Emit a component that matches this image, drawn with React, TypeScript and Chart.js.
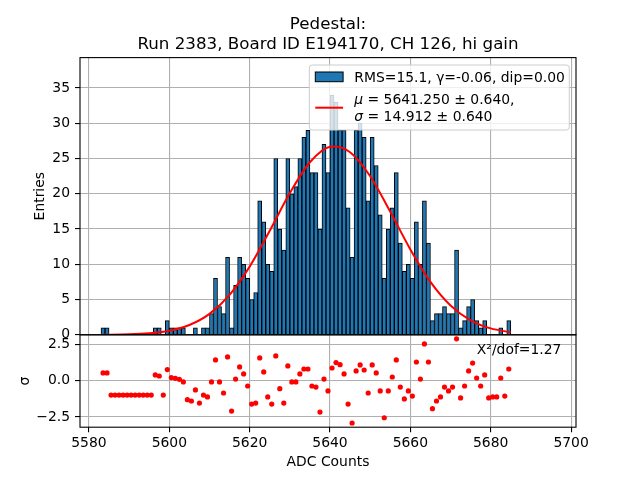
import React, { useEffect, useRef } from 'react';
import { Chart, registerables } from 'chart.js';

Chart.register(...registerables);

// ---- Data ----
// Histogram bin centres (bin width 1 ADC count)
const binCenters = [
  5583.5, 5584.5, 5585.5, 5586.5, 5587.5, 5588.5, 5589.5, 5590.5, 5591.5, 5592.5,
  5593.5, 5594.5, 5595.5, 5596.5, 5597.5, 5598.5, 5599.5, 5600.5, 5601.5, 5602.5,
  5603.5, 5604.5, 5605.5, 5606.5, 5607.5, 5608.5, 5609.5, 5610.5, 5611.5, 5612.5,
  5613.5, 5614.5, 5615.5, 5616.5, 5617.5, 5618.5, 5619.5, 5620.5, 5621.5, 5622.5,
  5623.5, 5624.5, 5625.5, 5626.5, 5627.5, 5628.5, 5629.5, 5630.5, 5631.5, 5632.5,
  5633.5, 5634.5, 5635.5, 5636.5, 5637.5, 5638.5, 5639.5, 5640.5, 5641.5, 5642.5,
  5643.5, 5644.5, 5645.5, 5646.5, 5647.5, 5648.5, 5649.5, 5650.5, 5651.5, 5652.5,
  5653.5, 5654.5, 5655.5, 5656.5, 5657.5, 5658.5, 5659.5, 5660.5, 5661.5, 5662.5,
  5663.5, 5664.5, 5665.5, 5666.5, 5667.5, 5668.5, 5669.5, 5670.5, 5671.5, 5672.5,
  5673.5, 5674.5, 5675.5, 5676.5, 5677.5, 5678.5, 5679.5, 5680.5, 5681.5, 5682.5,
  5683.5, 5684.5,
];

// Entries per bin
const entries = [
  1, 1, 0, 0, 0, 0, 0, 0, 0, 0,
  0, 0, 0, 1, 1, 0, 2, 1, 1, 1,
  1, 0, 0, 1, 0, 1, 1, 3, 8, 4,
  3, 11, 1, 7, 11, 10, 8, 5, 6, 19,
  16, 10, 9, 25, 15, 12, 25, 20, 21, 25,
  28, 29, 23, 23, 15, 27, 23, 34, 33, 29,
  29, 18, 11, 29, 30, 28, 19, 28, 24, 17,
  8, 15, 18, 23, 13, 9, 10, 8, 16, 10,
  19, 13, 2, 3, 3, 4, 3, 3, 12, 1,
  2, 4, 5, 2, 1, 2, 0, 0, 0, 1,
  0, 2,
];

// Residuals (sigma) per bin
const residuals = [
  0.53, 0.53, -0.99, -0.99, -0.99, -0.99, -0.99, -0.99, -0.99, -0.99,
  -0.99, -0.99, -0.99, 0.39, 0.32, -0.99, 0.76, 0.21, 0.16, 0.09,
  -0.09, -1.31, -1.40, -0.64, -1.54, -0.99, -1.12, -0.09, 1.42, -0.09,
  -0.85, 1.63, -2.09, 0.11, 0.94, 0.46, -0.37, -1.61, -1.54, 1.56,
  0.60, -1.12, -1.61, 1.70, -0.55, -1.54, 1.01, -0.09, -0.09, 0.46,
  0.80, 0.80, -0.37, -0.44, -2.16, 0.11, -0.71, 0.87, 1.24, 1.10,
  0.46, -1.61, -2.91, 0.67, 1.08, 0.73, -0.85, 1.08, 0.53, -0.71,
  -2.55, -0.71, 0.25, 1.42, -0.44, -1.26, -0.71, -1.06, 1.28, 0.11,
  2.52, 1.28, -1.93, -1.40, -1.12, -0.44, -0.71, -0.44, 2.87, -1.19,
  -0.37, 0.67, 1.21, 0.18, -0.37, 0.39, -1.19, -1.12, -1.12, 0.18,
  -1.06, 0.80,
];

// Gaussian fit curve
const fitX = [5583, 5590, 5595, 5600, 5605, 5610, 5615, 5620, 5625, 5630, 5635, 5640, 5641.25, 5645, 5650, 5655, 5660, 5665, 5670, 5675, 5680, 5685];
const fitY = [0.01, 0.07, 0.22, 0.58, 1.39, 2.97, 5.67, 9.67, 14.74, 20.09, 24.46, 26.66, 26.7, 25.87, 22.48, 17.45, 12.11, 7.5, 4.16, 2.06, 0.91, 0.36];

const xTicks = [5580, 5600, 5620, 5640, 5660, 5680, 5700];
const yTicks = [0, 5, 10, 15, 20, 25, 30, 35];
const residualTicks = [-2.5, 0, 2.5];

const titleLines = ['Pedestal:', 'Run 2383, Board ID E194170, CH 126, hi gain'];
const legendHistLabel = 'RMS=15.1, γ=-0.06, dip=0.00';
const legendFitLine1 = ' = 5641.250 ± 0.640,';
const legendFitLine2 = ' = 14.912 ± 0.640';
const chiText = 'X²/dof=1.27';

const FONT = '"DejaVu Sans", "Liberation Sans", sans-serif';

export default function App() {
  const canvasRef = useRef<HTMLCanvasElement | null>(null);

  useEffect(() => {
    document.body.style.margin = '0';
    const canvas = canvasRef.current;
    if (!canvas) return;

    const overlay = {
      id: 'mplOverlay',
      afterDatasetsDraw(chart: any) {
        const ctx = chart.ctx as CanvasRenderingContext2D;
        const ca = chart.chartArea;
        const yS = chart.scales.y;
        const rS = chart.scales.yres;
        ctx.save();
        // panel frames
        ctx.strokeStyle = '#000';
        ctx.lineWidth = 1.1;
        ctx.strokeRect(ca.left, yS.top, ca.right - ca.left, yS.bottom - yS.top);
        ctx.strokeRect(ca.left, rS.top, ca.right - ca.left, rS.bottom - rS.top);

        // legend
        const lw = 260, lh = 65;
        const lx = ca.right - 6.7 - lw;
        const ly = ca.top + 7.4;
        const r = 3;
        ctx.beginPath();
        ctx.moveTo(lx + r, ly);
        ctx.lineTo(lx + lw - r, ly);
        ctx.quadraticCurveTo(lx + lw, ly, lx + lw, ly + r);
        ctx.lineTo(lx + lw, ly + lh - r);
        ctx.quadraticCurveTo(lx + lw, ly + lh, lx + lw - r, ly + lh);
        ctx.lineTo(lx + r, ly + lh);
        ctx.quadraticCurveTo(lx, ly + lh, lx, ly + lh - r);
        ctx.lineTo(lx, ly + r);
        ctx.quadraticCurveTo(lx, ly, lx + r, ly);
        ctx.closePath();
        ctx.fillStyle = 'rgba(255,255,255,0.8)';
        ctx.fill();
        ctx.strokeStyle = '#cccccc';
        ctx.lineWidth = 1;
        ctx.stroke();

        const hx = lx + 6;
        // histogram patch
        ctx.fillStyle = '#1f77b4';
        ctx.fillRect(hx, ly + 7, 27.8, 9.7);
        ctx.strokeStyle = '#000';
        ctx.lineWidth = 1;
        ctx.strokeRect(hx, ly + 7, 27.8, 9.7);
        // fit line
        ctx.strokeStyle = 'red';
        ctx.lineWidth = 2;
        ctx.beginPath();
        ctx.moveTo(hx, ly + 42.7);
        ctx.lineTo(hx + 27.8, ly + 42.7);
        ctx.stroke();

        const tx = lx + 45;
        ctx.fillStyle = '#000';
        ctx.textAlign = 'left';
        ctx.textBaseline = 'alphabetic';
        ctx.font = `13.9px ${FONT}`;
        ctx.fillText(legendHistLabel, tx, ly + 16.5);
        ctx.font = `italic 13.9px ${FONT}`;
        ctx.fillText('μ', tx, ly + 38.5);
        const muW = ctx.measureText('μ').width;
        ctx.fillText('σ', tx, ly + 55.8);
        const sgW = ctx.measureText('σ').width;
        ctx.font = `13.9px ${FONT}`;
        ctx.fillText(legendFitLine1, tx + muW, ly + 38.5);
        ctx.fillText(legendFitLine2, tx + sgW, ly + 55.8);

        // chi2 text in residual panel
        ctx.fillText(chiText, ca.left + 0.8 * (ca.right - ca.left), rS.top + 19.5);
        ctx.restore();
      },
      afterDraw(chart: any) {
        const ctx = chart.ctx as CanvasRenderingContext2D;
        const ca = chart.chartArea;
        const yS = chart.scales.y;
        const rS = chart.scales.yres;
        const cx = (ca.left + ca.right) / 2;
        ctx.save();
        ctx.fillStyle = '#000';
        ctx.textAlign = 'center';
        ctx.textBaseline = 'alphabetic';
        ctx.font = `16.7px ${FONT}`;
        ctx.fillText(titleLines[0], cx, ca.top - 28.3);
        ctx.fillText(titleLines[1], cx, ca.top - 8.3);

        ctx.font = `13.9px ${FONT}`;
        ctx.textBaseline = 'middle';
        ctx.fillText('ADC Counts', cx, 462);

        ctx.save();
        ctx.translate(40, (yS.top + yS.bottom) / 2);
        ctx.rotate(-Math.PI / 2);
        ctx.fillText('Entries', 0, 0);
        ctx.restore();

        ctx.save();
        ctx.translate(25, (rS.top + rS.bottom) / 2);
        ctx.rotate(-Math.PI / 2);
        ctx.fillText('σ', 0, 0);
        ctx.restore();
        ctx.restore();
      },
    };

    const tickFont = { family: FONT, size: 13.9 };
    const gridCommon = {
      color: '#b0b0b0',
      lineWidth: 1.1,
      tickColor: '#000',
      tickLength: 5,
      drawTicks: true,
      offset: false,
    };

    const chart = new Chart(canvas, {
      type: 'bar',
      data: {
        datasets: [
          {
            type: 'bar',
            label: legendHistLabel,
            data: binCenters.map((x, i) => ({ x, y: entries[i] })),
            backgroundColor: '#1f77b4',
            borderColor: '#000',
            borderWidth: 1,
            barPercentage: 1,
            categoryPercentage: 1,
            xAxisID: 'x',
            yAxisID: 'y',
            order: 2,
          } as any,
          {
            type: 'line',
            label: 'fit',
            data: fitX.map((x, i) => ({ x, y: fitY[i] })),
            borderColor: 'red',
            borderWidth: 2,
            pointRadius: 0,
            fill: false,
            cubicInterpolationMode: 'monotone',
            xAxisID: 'x',
            yAxisID: 'y',
            order: 1,
          } as any,
          {
            type: 'scatter',
            label: 'residuals',
            data: binCenters.map((x, i) => ({ x, y: residuals[i] })),
            backgroundColor: 'red',
            borderWidth: 0,
            pointRadius: 2.6,
            xAxisID: 'x',
            yAxisID: 'yres',
            order: 0,
          } as any,
        ],
      },
      options: {
        animation: false,
        responsive: false,
        devicePixelRatio: 1,
        layout: { padding: { top: 57.6, right: 64, bottom: 0, left: 0 } },
        plugins: {
          legend: { display: false },
          title: { display: false },
          tooltip: { enabled: false },
        },
        scales: {
          x: {
            type: 'linear',
            position: 'bottom',
            offset: false,
            min: 5577.77,
            max: 5701.23,
            afterFit: (s: any) => { s.height = 52.8; },
            afterBuildTicks: (s: any) => { s.ticks = xTicks.map((v) => ({ value: v })); },
            ticks: {
              color: '#000',
              font: tickFont,
              padding: 3,
              maxRotation: 0,
              autoSkip: false,
              callback: (v: any) => String(v),
            },
            grid: gridCommon,
            border: { display: false },
          },
          yres: {
            type: 'linear',
            position: 'left',
            stack: 'panels',
            stackWeight: 1,
            min: -3.2,
            max: 3.15,
            afterFit: (s: any) => { s.width = 80; },
            afterBuildTicks: (s: any) => { s.ticks = residualTicks.map((v) => ({ value: v })); },
            ticks: {
              color: '#000',
              font: tickFont,
              padding: 5,
              callback: (v: any) => (Number(v) < 0 ? '\u2212' : '') + Math.abs(Number(v)).toFixed(1),
            },
            grid: gridCommon,
            border: { display: false },
          },
          y: {
            type: 'linear',
            position: 'left',
            stack: 'panels',
            stackWeight: 3,
            min: 0,
            max: 39.3,
            afterFit: (s: any) => { s.width = 80; },
            afterBuildTicks: (s: any) => { s.ticks = yTicks.map((v) => ({ value: v })); },
            ticks: {
              color: '#000',
              font: tickFont,
              padding: 5,
              callback: (v: any) => String(v),
            },
            grid: gridCommon,
            border: { display: false },
          },
        },
      } as any,
      plugins: [overlay],
    });

    return () => {
      chart.destroy();
    };
  }, []);

  return (
    <div style={{ width: 640, height: 480, position: 'relative', overflow: 'hidden', background: '#fff' }}>
      <canvas ref={canvasRef} width={640} height={480} style={{ display: 'block', width: 640, height: 480 }} />
    </div>
  );
}
